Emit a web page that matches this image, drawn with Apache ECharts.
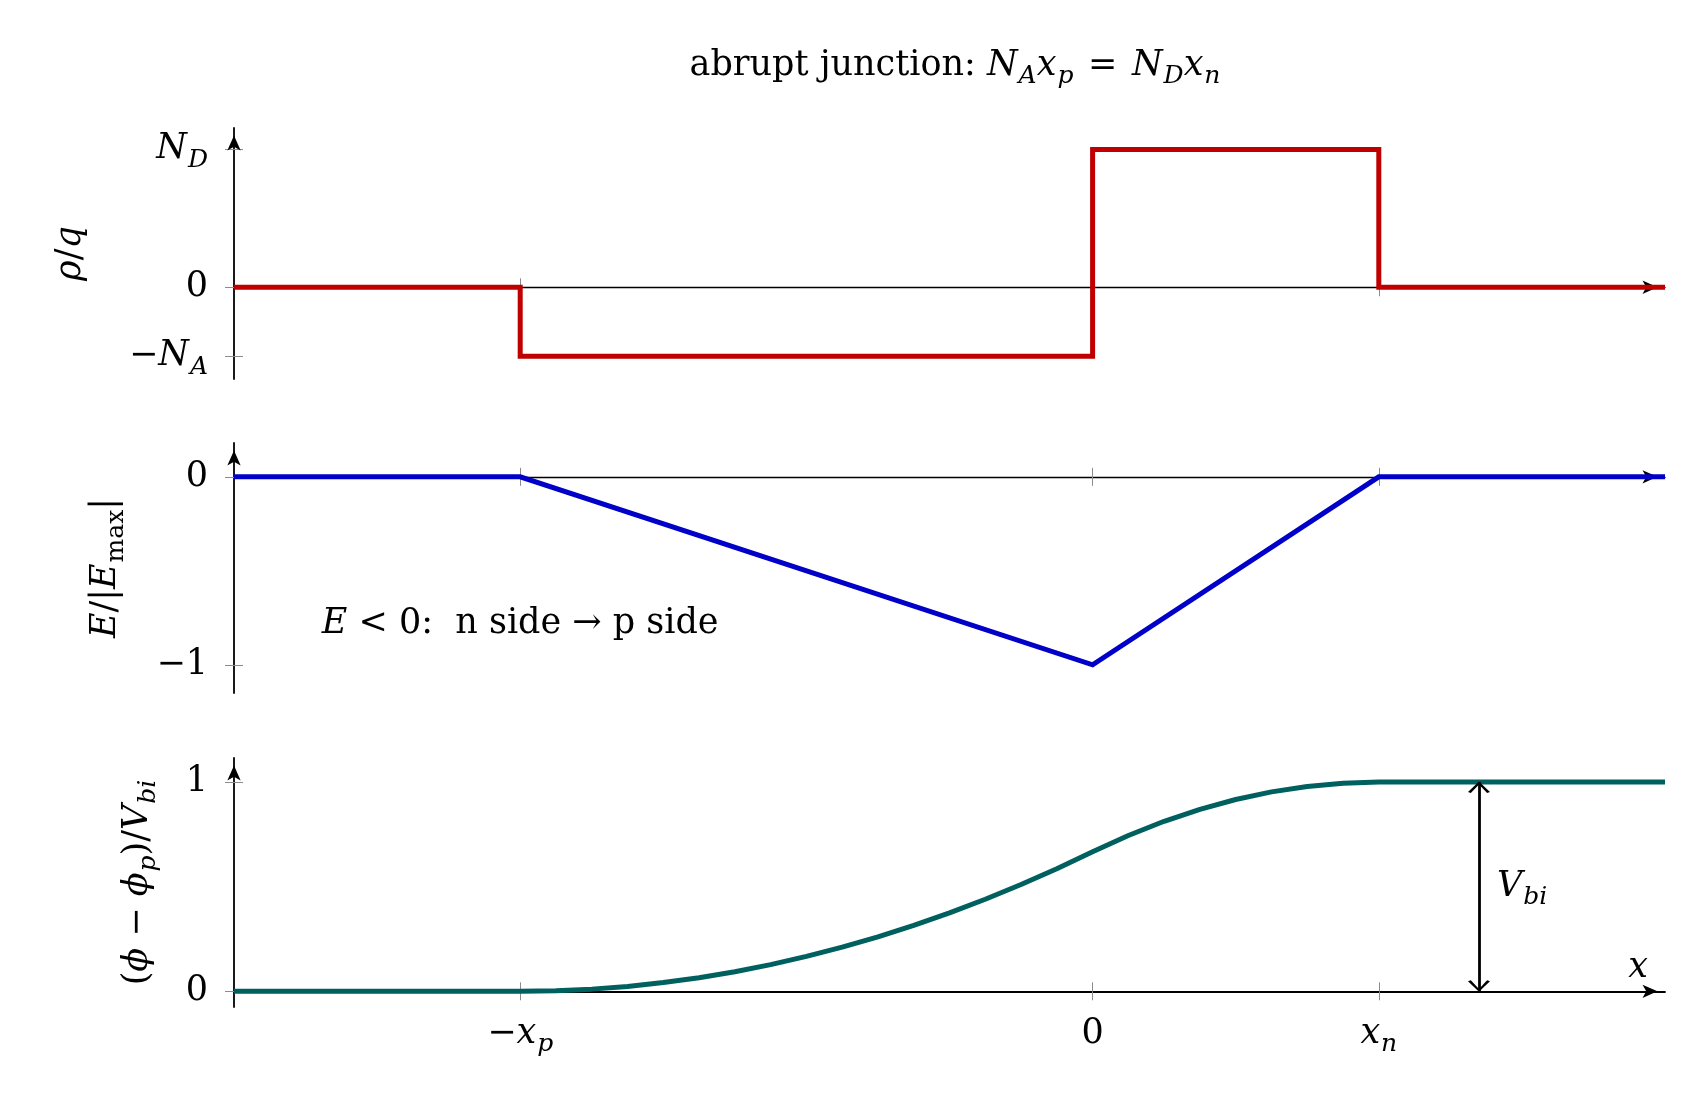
<!DOCTYPE html>
<html>
<head>
<meta charset="utf-8">
<script src="https://cdn.jsdelivr.net/npm/echarts@6/dist/echarts.min.js"></script>
<style>
  html, body { margin: 0; padding: 0; background: #fff; }
  #main { width: 1701px; height: 1098px; }
</style>
</head>
<body>
<div id="main"></div>
<script>
// x in units of x_n (x_p = 2 x_n, so N_D = 2 N_A)
const xRange = [-3, 2];
const xTicks = [-2, 0, 1];
const xTickLabels = ['{r|−}{i|x}{s|p}', '0', '{i|x}{s|n}'];

// charge density rho/q
const rhoX = [-3, -2, -2, 0, 0, 1, 1, 2];
const rhoY = [0, 0, -1, -1, 2, 2, 0, 0];
const rhoRange = [-1.33, 2.31];
const rhoTicks = [-1, 0, 2];
const rhoTickLabels = ['{r|−}{i|N}{s|A}', '0', '{i|N}{s|D}'];

// field E/|Emax|
const fieldX = [-3, -2, 0, 1, 2];
const fieldY = [0, 0, -1, 0, 0];
const fieldRange = [-1.15, 0.18];
const fieldTicks = [-1, 0];
const fieldTickLabels = ['−1', '0'];

// potential (phi - phi_p)/Vbi
const phiX = [-3, -2, -1.875, -1.75, -1.625, -1.5, -1.375, -1.25, -1.125, -1, -0.875, -0.75, -0.625,
  -0.5, -0.375, -0.25, -0.125, 0, 0.125, 0.25, 0.375, 0.5, 0.625, 0.75, 0.875, 1, 2];
const phiY = [0, 0, 0.0026, 0.0104, 0.0234, 0.0417, 0.0651, 0.0938, 0.1276, 0.1667, 0.2109, 0.2604, 0.3151,
  0.375, 0.4401, 0.5104, 0.5859, 0.6667, 0.7448, 0.8125, 0.8698, 0.9167, 0.9531, 0.9792, 0.9948, 1, 1];
const phiRange = [-0.075, 1.115];
const phiTicks = [0, 1];
const phiTickLabels = ['0', '1'];

// annotations
const notePos = [-2, -0.78];
const vbiX = 1.35;
const vbiSpan = [0, 1];

const FONT = 'DejaVu Serif';
const F = 35;
const S = 25;
const base = { fontFamily: FONT, fontWeight: 'normal', verticalAlign: 'top', color: '#000' };
const rich = {
  r: Object.assign({ fontSize: F, lineHeight: F }, base),
  i: Object.assign({ fontSize: F, lineHeight: F, fontStyle: 'italic' }, base),
  s: Object.assign({ fontSize: S, lineHeight: S, fontStyle: 'italic', padding: [16, 0, 0, 1] }, base),
  u: Object.assign({ fontSize: S, lineHeight: S, padding: [16, 0, 0, 1] }, base)
};

const pairs = (xs, ys) => xs.map((x, k) => [x, ys[k]]);
const label = (vals, texts) => v => {
  let k = vals.indexOf(v);
  return k < 0 ? '' : (texts[k].indexOf('{') < 0 ? '{r|' + texts[k] + '}' : texts[k]);
};
const tickStyle = { color: '#8c8c8c', width: 1 };
const arrowLine = (w) => ({
  show: true, lineStyle: { color: '#000', width: w },
  symbol: ['none', 'arrow'], symbolSize: [10, 15], symbolOffset: [0, -7.5]
});

// two x axes per grid: one with ticks up, one with ticks down (ticks cross the line)
function xAxes(g, yIdx, lineW, withLabels) {
  let a = {
    type: 'value', gridIndex: g, min: xRange[0], max: xRange[1], position: 'bottom',
    axisLine: Object.assign(arrowLine(lineW), { onZero: true, onZeroAxisIndex: yIdx }),
    axisTick: { show: true, inside: true, length: 9, customValues: xTicks, lineStyle: tickStyle },
    axisLabel: { show: false }, splitLine: { show: false }
  };
  let b = {
    type: 'value', gridIndex: g, min: xRange[0], max: xRange[1], position: 'bottom',
    axisLine: { show: true, onZero: true, onZeroAxisIndex: yIdx, lineStyle: { opacity: 0 } },
    axisTick: { show: true, inside: false, length: 9, customValues: xTicks, lineStyle: tickStyle },
    axisLabel: {
      show: withLabels, margin: 9, customValues: xTicks,
      formatter: label(xTicks, xTickLabels), rich: rich
    },
    splitLine: { show: false }
  };
  if (withLabels) {
    a.name = 'x';
    a.nameLocation = 'end';
    a.nameGap = -17;
    a.nameMoveOverlap = false;
    a.nameTextStyle = { fontFamily: FONT, fontStyle: 'italic', fontSize: F, color: '#000',
      align: 'right', verticalAlign: 'bottom', padding: [0, 0, 6, 0] };
  }
  return [a, b];
}

function yAxes(g, range, ticks, texts, name, gap) {
  let a = {
    type: 'value', gridIndex: g, min: range[0], max: range[1], position: 'left',
    axisLine: Object.assign(arrowLine(1.8), { onZero: false }),
    axisTick: { show: true, inside: true, length: 9, customValues: ticks, lineStyle: tickStyle },
    axisLabel: { show: false }, splitLine: { show: false },
    name: name, nameLocation: 'middle', nameGap: gap, nameRotate: 90, nameMoveOverlap: false,
    nameTextStyle: { rich: rich }
  };
  let b = {
    type: 'value', gridIndex: g, min: range[0], max: range[1], position: 'left',
    axisLine: { show: false, onZero: false },
    axisTick: { show: true, inside: false, length: 9, customValues: ticks, lineStyle: tickStyle },
    axisLabel: { show: true, margin: 26, customValues: ticks, formatter: label(ticks, texts), rich: rich },
    splitLine: { show: false }
  };
  return [a, b];
}

// open arrow head, apex at the middle of its box so it ends on the line end
const chev = 'path://M5,0 L5,0.01 M0,20 L5,10 L10,20 L8.7,21 L5,12.8 L1.3,21 Z';

const option = {
  animation: false,
  backgroundColor: '#fff',
  title: {
    text: '{r|abrupt junction: }{i|N}{s|A}{i|x}{s|p}{r| \u200a= \u200a}{i|N}{s|D}{i|x}{s|n}',
    left: 950, top: 43, textAlign: 'center',
    textStyle: { fontWeight: 'normal', rich: rich }
  },
  grid: [
    { left: 234, width: 1431, top: 128, height: 251, outerBoundsMode: 'none' },
    { left: 234, width: 1431, top: 443, height: 250, outerBoundsMode: 'none' },
    { left: 234, width: 1431, top: 758, height: 249, outerBoundsMode: 'none' }
  ],
  xAxis: [].concat(
    xAxes(0, 0, 1.3, false),
    xAxes(1, 2, 1.3, false),
    xAxes(2, 4, 1.8, true)
  ),
  yAxis: [].concat(
    yAxes(0, rhoRange, rhoTicks, rhoTickLabels, '{i|ρ}{r|/}{i|q}', 146),
    yAxes(1, fieldRange, fieldTicks, fieldTickLabels, '{i|E}{r|/|}{i|E}{u|max}{r||}', 111),
    yAxes(2, phiRange, phiTicks, phiTickLabels, '{r|(}{i|ϕ}{r| − }{i|ϕ}{s|p}{r|)/}{i|V}{s|bi}', 79)
  ),
  series: [
    {
      type: 'line', xAxisIndex: 0, yAxisIndex: 0, data: pairs(rhoX, rhoY),
      showSymbol: false, symbol: 'none',
      lineStyle: { color: '#c00000', width: 5, join: 'miter' }
    },
    {
      type: 'line', xAxisIndex: 2, yAxisIndex: 2, data: pairs(fieldX, fieldY),
      showSymbol: false, symbol: 'none',
      lineStyle: { color: '#0000c8', width: 5, join: 'miter' },
      markPoint: {
        silent: true, symbol: 'circle', symbolSize: 0,
        label: {
          show: true, position: 'inside',
          formatter: '{i|E}{r| < 0:  n side → p side}', rich: rich
        },
        data: [{ coord: notePos }]
      }
    },
    {
      type: 'line', xAxisIndex: 4, yAxisIndex: 4, data: pairs(phiX, phiY),
      showSymbol: false, symbol: 'none',
      lineStyle: { color: '#006060', width: 5 },
      markLine: {
        silent: true, symbol: [chev, chev], symbolSize: [22, 22],
        lineStyle: { color: '#000', width: 2.8, type: 'solid' },
        label: { show: false },
        data: [[{ coord: [vbiX, vbiSpan[0]] }, { coord: [vbiX, vbiSpan[1]] }]]
      },
      markPoint: {
        silent: true, symbol: 'circle', symbolSize: 0,
        label: { show: true, position: 'right', distance: 18, formatter: '{i|V}{s|bi}', rich: rich },
        data: [{ coord: [vbiX, (vbiSpan[0] + vbiSpan[1]) / 2] }]
      }
    }
  ]
};

let chart = echarts.init(document.getElementById('main'), null, { renderer: 'canvas' });
chart.setOption(option);
</script>
</body>
</html>
